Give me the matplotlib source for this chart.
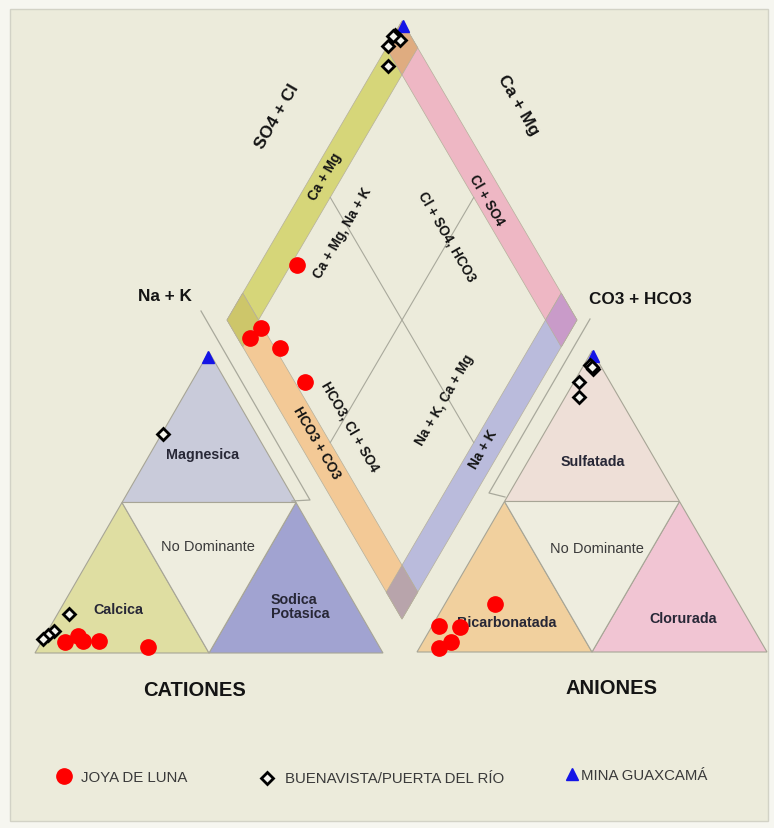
import matplotlib.pyplot as plt
from matplotlib.patches import Polygon, Rectangle
import numpy as np

plt.rcParams['font.family'] = ['Liberation Sans', 'DejaVu Sans']

# JOYA DE LUNA
joya_ca = [84.8, 89.5, 84.2, 79.6, 66.5]
joya_mg = [5.6, 3.7, 4.0, 4.0, 2.0]
joya_nak = [9.6, 6.8, 11.8, 16.4, 31.5]
joya_hco3 = [69.8, 93.1, 83.6, 89.4, 88.6]
joya_so4 = [15.9, 1.3, 8.3, 8.6, 3.3]
joya_cl = [14.3, 5.6, 8.1, 2.0, 8.1]
joya_camg_r = [89.2, 90.4, 89.0, 80.0, 67.3]   # rombo: Ca+Mg
joya_so4cl_r = [29.2, 3.6, 8.4, 10.5, 12.0]   # rombo: SO4+Cl

# BUENAVISTA/PUERTA DEL RIO
bv_ca = [26.8, 83.7, 90.9, 93.25, 95.5]
bv_mg = [72.8, 13.0, 7.3, 6.0, 4.5]
bv_nak = [0.4, 3.3, 1.8, 0.75, 0.0]
bv_hco3 = [2.7, 11.4, 2.9, 8.9, 2.6]
bv_so4 = [94.0, 84.7, 95.3, 89.7, 94.7]
bv_cl = [3.3, 3.9, 1.8, 1.4, 2.7]
bv_camg_r = [99.7, 96.5, 97.4, 99.8, 100.0]
bv_so4cl_r = [95.7, 88.5, 96.2, 91.8, 95.0]

# MINA GUAXCAMA
mg_ca = [1.0]
mg_mg = [98.5]
mg_nak = [0.5]
mg_hco3 = [0.6]
mg_so4 = [98.3]
mg_cl = [1.1]
mg_camg_r = [99.0]
mg_so4cl_r = [99.3]

# ---- geometria (pixeles de la figura) ----
Lc, Rc, Ac = np.array([35, 654]), np.array([383, 654]), np.array([209, 353])
La, Ra, Aa = np.array([417, 653]), np.array([767, 653]), np.array([592, 352])
B, L, R = np.array([402, 620]), np.array([227, 321]), np.array([577, 321])
f = 0.09  # ancho de las bandas del rombo


def tern(p0, p1, p2, a1, a2):
    a1 = np.asarray(a1, float) / 100
    a2 = np.asarray(a2, float) / 100
    x = p0[0] + a1 * (p1[0] - p0[0]) + a2 * (p2[0] - p0[0])
    y = p0[1] + a1 * (p1[1] - p0[1]) + a2 * (p2[1] - p0[1])
    return x, y


def cat(nak, mg):
    return tern(Lc, Rc, Ac, nak, mg)


def ani(cl, so4):
    return tern(La, Ra, Aa, cl, so4)


def rom(camg, so4cl):
    return tern(B, L, R, camg, so4cl)


def poly(ax, pts, fc, ec='#a7a596', lw=0.8, z=1):
    ax.add_patch(Polygon(np.array(pts), closed=True, fc=fc, ec=ec, lw=lw, zorder=z))


fig = plt.figure(figsize=(7.74, 8.29), dpi=100, facecolor='#f6f6f0')
ax = fig.add_axes([0, 0, 1, 1])
ax.set_xlim(0, 774)
ax.set_ylim(829, 0)
ax.axis('off')
ax.add_patch(Rectangle((10, 10), 758, 812, fc='#ecebdb', ec='#d2d2c6', lw=1, zorder=0))

# triangulo de cationes
p = lambda a, b: np.column_stack(cat([a], [b]))[0]
poly(ax, [p(0, 50), p(50, 50), p(0, 100)], '#c9cbda')
poly(ax, [p(0, 0), p(50, 0), p(0, 50)], '#dfdea2')
poly(ax, [p(50, 0), p(100, 0), p(50, 50)], '#a1a3d1')
poly(ax, [p(0, 50), p(50, 50), p(50, 0)], '#eeeddf')

# triangulo de aniones
q = lambda a, b: np.column_stack(ani([a], [b]))[0]
poly(ax, [q(0, 50), q(50, 50), q(0, 100)], '#eedfd7')
poly(ax, [q(0, 0), q(50, 0), q(0, 50)], '#f1d09e')
poly(ax, [q(50, 0), q(100, 0), q(50, 50)], '#f1c5d3')
poly(ax, [q(0, 50), q(50, 50), q(50, 0)], '#eeeddf')

# rombo
r = lambda a, b: np.column_stack(rom([a * 100], [b * 100]))[0]
bands = [
    ([(1 - f, 0), (1, 0), (1, 1), (1 - f, 1)], '#d6d679'),
    ([(0, 1 - f), (1, 1 - f), (1, 1), (0, 1)], '#eeb7c4'),
    ([(0, 0), (f, 0), (f, 1), (0, 1)], '#babbdc'),
    ([(0, 0), (1, 0), (1, f), (0, f)], '#f3c996'),
]
for pts, c in bands:
    poly(ax, [r(a, b) for a, b in pts], c, ec='#b5b09c', lw=0.5)
corners = [
    ([(1 - f, 1 - f), (1, 1 - f), (1, 1), (1 - f, 1)], '#dfac80'),
    ([(1 - f, 0), (1, 0), (1, f), (1 - f, f)], '#cdc66a'),
    ([(0, 1 - f), (f, 1 - f), (f, 1), (0, 1)], '#c99bc9'),
    ([(0, 0), (f, 0), (f, f), (0, f)], '#b8a4ab'),
]
for pts, c in corners:
    poly(ax, [r(a, b) for a, b in pts], c, ec='#b5b09c', lw=0.5)
for a0, b0, a1, b1 in [(f, 0.5, 1 - f, 0.5), (0.5, f, 0.5, 1 - f)]:
    s0, s1 = r(a0, b0), r(a1, b1)
    ax.plot([s0[0], s1[0]], [s0[1], s1[1]], color='#a9a99c', lw=0.8, zorder=2)

# lineas de eje desplazadas
ax.plot([201, 310, 292], [312, 501, 502], color='#a9a99c', lw=0.9, zorder=2)
ax.plot([590, 489, 505], [320, 494, 498], color='#a9a99c', lw=0.9, zorder=2)

# textos
bold = dict(fontweight='bold', color='#141414', ha='center', va='center', zorder=5)
ax.text(277, 117, 'SO4 + Cl', rotation=60, fontsize=12.5, **bold)
ax.text(518, 105, 'Ca + Mg', rotation=-60, fontsize=12.5, **bold)
ax.text(325, 177, 'Ca + Mg', rotation=60, fontsize=9.8, **bold)
ax.text(487, 200, 'Cl + SO4', rotation=-60, fontsize=9.8, **bold)
ax.text(343, 233, 'Ca + Mg, Na + K', rotation=60, fontsize=9.8, **bold)
ax.text(447, 237, 'Cl + SO4, HCO3', rotation=-60, fontsize=9.8, **bold)
ax.text(350, 427, 'HCO3, Cl + SO4', rotation=-60, fontsize=9.8, **bold)
ax.text(317, 443, 'HCO3 + CO3', rotation=-60, fontsize=9.8, **bold)
ax.text(445, 400, 'Na + K, Ca + Mg', rotation=60, fontsize=9.8, **bold)
ax.text(483, 450, 'Na + K', rotation=60, fontsize=9.8, **bold)
ax.text(165, 296, 'Na + K', fontsize=12.3, **bold)
ax.text(640, 299, 'CO3 + HCO3', fontsize=12.3, **bold)
ax.text(195, 690, 'CATIONES', fontsize=14.5, **bold)
ax.text(612, 688, 'ANIONES', fontsize=14.5, **bold)

reg = dict(fontweight='bold', color='#272736', ha='center', va='center', fontsize=10.3, zorder=5)
ax.text(203, 455, 'Magnesica', **reg)
ax.text(118, 610, 'Calcica', **reg)
ax.text(300, 607, 'Sodica\nPotasica', multialignment='left', linespacing=1.05, **reg)
ax.text(593, 462, 'Sulfatada', **reg)
ax.text(507, 623, 'Bicarbonatada', **reg)
ax.text(683, 619, 'Clorurada', **reg)
nd = dict(color='#3a3a3a', ha='center', va='center', fontsize=10.5, zorder=5)
ax.text(208, 547, 'No Dominante', **nd)
ax.text(597, 549, 'No Dominante', **nd)

# puntos
sty_mina = dict(ls='none', marker='^', ms=9, color='#1414e6', zorder=6)
sty_bv = dict(ls='none', marker='D', ms=6.2, mfc='#f4f4ee', mec='black', mew=2, zorder=7)
sty_joya = dict(ls='none', marker='o', ms=11, color='#ff0000', zorder=8)

ax.plot(*cat(mg_nak, mg_mg), **sty_mina)
ax.plot(*ani(mg_cl, mg_so4), **sty_mina)
ax.plot(*rom(mg_camg_r, mg_so4cl_r), **sty_mina)

ax.plot(*cat(bv_nak, bv_mg), **sty_bv)
ax.plot(*ani(bv_cl, bv_so4), **sty_bv)
ax.plot(*rom(bv_camg_r, bv_so4cl_r), **sty_bv)

ax.plot(*cat(joya_nak, joya_mg), **sty_joya)
ax.plot(*ani(joya_cl, joya_so4), **sty_joya)
ax.plot(*rom(joya_camg_r, joya_so4cl_r), **sty_joya)

# leyenda
leg = dict(color='#3a3a3a', fontsize=10.8, va='center', ha='left', zorder=5)
ax.plot([64], [777], **sty_joya)
ax.text(81, 778, 'JOYA DE LUNA', **leg)
ax.plot([267], [779], **sty_bv)
ax.text(285, 779, 'BUENAVISTA/PUERTA DEL RÍO', **leg)
ax.plot([572], [775], **sty_mina)
ax.text(581, 776, 'MINA GUAXCAMÁ', **leg)

fig.savefig('out.png', dpi=100, facecolor=fig.get_facecolor())
